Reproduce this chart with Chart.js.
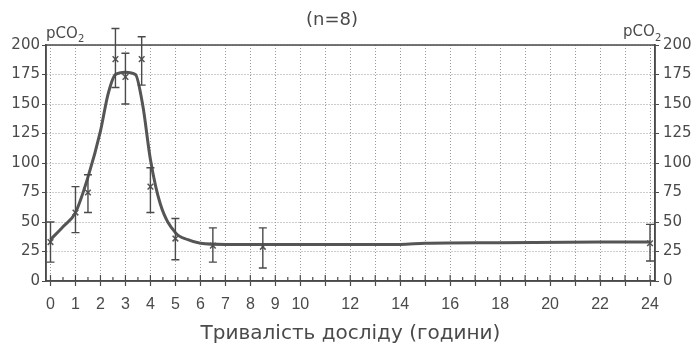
<!DOCTYPE html>
<html>
<head>
<meta charset="utf-8">
<script src="https://cdn.jsdelivr.net/npm/chart.js@4.4.0/dist/chart.umd.min.js"></script>
<style>
	html,body{margin:0;padding:0;background:#fff;}
	#wrap{width:699px;height:352px;}
</style>
</head>
<body>
<div id="wrap"><canvas id="ctx" width="699" height="352"></canvas></div>
<script>
// mean curve
var curveHours  = [0, 0.5, 1, 1.5, 2, 2.3, 2.6, 3, 3.4, 3.7, 4, 4.4, 5, 5.5, 6, 7, 10, 14, 15, 18, 22, 24];
var curveValues = [35, 46, 58, 88, 127, 158, 175, 177, 175, 148, 103, 65, 41, 35, 32, 31, 31, 31, 32, 32.5, 33, 33];

// measured points with error bars
var pointHours = [0, 1, 1.5, 2.6, 3, 3.65, 4, 5, 6.5, 8.5, 24];
var pointMeans = [33, 58, 75, 188, 173, 188, 80, 36, 30, 29, 32];
var errLow     = [16, 41, 58, 164, 150, 166, 58, 18, 16, 11, 17];
var errHigh    = [50, 80, 90, 214, 193, 207, 96, 53, 45, 45, 48];

// axis ticks
var hourLabels = [0, 1, 2, 3, 4, 5, 6, 7, 8, 9, 10, 12, 14, 16, 18, 20, 22, 24];
var yTicks     = [0, 25, 50, 75, 100, 125, 150, 175, 200];

var ink = '#4a4a4a';
var font = 'DejaVu Sans';

function pairs(xs, ys){
	var out = [];
	for(var i = 0; i < xs.length; i++){
		out.push({x: xs[i], y: ys[i]});
	}
	return out;
}

// error bars, frame, minor ticks and the loose texts
var extras = {
	id: 'extras',
	afterDatasetsDraw: function(chart){
		var c = chart.ctx, a = chart.chartArea;
		var xs = chart.scales.x, ys = chart.scales.y;
		c.save();

		// frame
		c.strokeStyle = ink;
		c.lineWidth = 1.5;
		c.strokeRect(a.left, a.top, a.right - a.left, a.bottom - a.top);

		// inner ticks on the time axis, every half hour
		c.lineWidth = 1.2;
		for(var h = 0; h <= 24; h += 0.5){
			var px = xs.getPixelForValue(h);
			var len = (h % 1 === 0) ? 6 : 4;
			c.beginPath();
			c.moveTo(px, a.bottom);
			c.lineTo(px, a.bottom - len);
			c.stroke();
		}

		// error bars
		c.lineWidth = 1.4;
		for(var i = 0; i < pointHours.length; i++){
			var x = xs.getPixelForValue(pointHours[i]);
			var yl = ys.getPixelForValue(errLow[i]);
			var yh = ys.getPixelForValue(errHigh[i]);
			c.beginPath();
			c.moveTo(x, yl); c.lineTo(x, yh);
			c.moveTo(x - 4, yl); c.lineTo(x + 4, yl);
			c.moveTo(x - 4, yh); c.lineTo(x + 4, yh);
			c.stroke();
		}

		// texts
		c.fillStyle = ink;
		c.textBaseline = 'alphabetic';
		c.font = '18px "' + font + '"';
		c.textAlign = 'center';
		c.fillText('(n=8)', 332, 25);

		c.textAlign = 'left';
		c.font = '15px "' + font + '"';
		c.fillText('pCO', 46, 38);
		c.fillText('pCO', 623, 36);
		c.font = '10px "' + font + '"';
		c.fillText('2', 78, 42);
		c.fillText('2', 655, 41);
		c.restore();
	}
};

var chart = new Chart(document.getElementById('ctx'), {
	type: 'scatter',
	data: {
		datasets: [
			{
				type: 'line',
				label: 'curve',
				data: pairs(curveHours, curveValues),
				borderColor: '#555',
				borderWidth: 3,
				pointRadius: 0,
				fill: false,
				cubicInterpolationMode: 'monotone'
			},
			{
				label: 'points',
				data: pairs(pointHours, pointMeans),
				pointStyle: 'crossRot',
				pointRadius: 4,
				borderColor: '#555',
				borderWidth: 1.5,
				clip: false
			}
		]
	},
	plugins: [extras],
	options: {
		animation: false,
		responsive: false,
		layout: {padding: {top: 45, left: 0, right: 0, bottom: 0}},
		plugins: {legend: {display: false}, tooltip: {enabled: false}},
		scales: {
			x: {
				type: 'linear',
				min: -0.18,
				max: 24.2,
				afterBuildTicks: function(scale){
					var t = [];
					for(var h = 0; h <= 24; h++){ t.push({value: h}); }
					scale.ticks = t;
				},
				afterFit: function(scale){ scale.height = 71; },
				grid: {color: '#9a9a9a', lineWidth: 1, tickLength: 5, tickColor: ink, tickWidth: 1.2, tickBorderDash: []},
				border: {display: true, color: ink, width: 1.5, dash: [1, 2]},
				ticks: {
					color: ink,
					font: {family: 'Liberation Sans', size: 16},
					padding: 9,
					maxRotation: 0,
					autoSkip: false,
					callback: function(v){ return hourLabels.indexOf(v) >= 0 ? String(v) : ''; }
				},
				title: {
					display: true,
					text: 'Тривалість досліду (години)',
					color: ink,
					font: {family: font, size: 20},
					padding: {top: 0, bottom: 6}
				}
			},
			y: {
				position: 'left',
				min: 0,
				max: 200,
				afterBuildTicks: function(scale){
					scale.ticks = yTicks.map(function(v){ return {value: v}; });
				},
				afterFit: function(scale){ scale.width = 46; },
				grid: {color: '#9a9a9a', lineWidth: 1, tickLength: 4, tickColor: ink, tickBorderDash: []},
				border: {display: true, color: ink, width: 1.5, dash: [1, 2]},
				ticks: {color: ink, font: {family: font, size: 15}, padding: 2}
			},
			y2: {
				position: 'right',
				min: 0,
				max: 200,
				afterBuildTicks: function(scale){
					scale.ticks = yTicks.map(function(v){ return {value: v}; });
				},
				afterFit: function(scale){ scale.width = 44; },
				grid: {drawOnChartArea: false, tickLength: 4, tickColor: ink},
				border: {display: true, color: ink, width: 1.5},
				ticks: {color: ink, font: {family: font, size: 15}, padding: 4}
			}
		}
	}
});
</script>
</body>
</html>
